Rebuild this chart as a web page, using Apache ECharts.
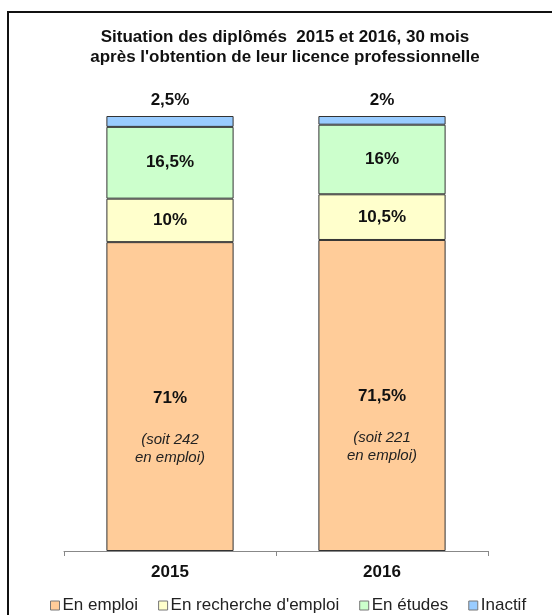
<!DOCTYPE html>
<html>
<head>
<meta charset="utf-8">
<script src="https://cdn.jsdelivr.net/npm/echarts@6/dist/echarts.min.js"></script>
<style>
  html, body { margin: 0; padding: 0; background: #fff; }
  #chart { width: 552px; height: 615px; }
</style>
</head>
<body>
<div id="chart"></div>
<script>
// données
const years = ['2015', '2016']
const enEmploi = [71, 71.5]
const enRecherche = [10, 10.5]
const enEtudes = [16.5, 16]
const inactif = [2.5, 2]
const nbEmploi = [242, 221]

const font = 'Liberation Sans, Arial, sans-serif'
const pct = (v) => String(v).replace('.', ',') + '%'

const chart = echarts.init(document.getElementById('chart'))

const segBorder = { borderColor: '#333', borderWidth: 1 }

const option = {
  animation: false,
  textStyle: { fontFamily: font },
  graphic: [
    {
      type: 'polyline',
      shape: { points: [[8, 615], [8, 12], [552, 12]] },
      style: { stroke: '#111', lineWidth: 2, fill: null }
    },
    {
      // titre centré un peu à droite, comme sur l'original
      type: 'text',
      x: 285,
      y: 47,
      style: {
        text: 'Situation des diplômés  2015 et 2016, 30 mois\naprès l\'obtention de leur licence professionnelle',
        align: 'center',
        verticalAlign: 'middle',
        fontSize: 17,
        fontWeight: 'bold',
        fontFamily: font,
        lineHeight: 20,
        fill: '#111'
      }
    }
  ],
  legend: {
    top: 592,
    left: 45,
    itemWidth: 9,
    itemHeight: 9,
    itemGap: 20,
    icon: 'rect',
    itemStyle: { borderColor: '#777', borderWidth: 1 },
    textStyle: { fontSize: 17, color: '#222', fontFamily: font, padding: [0, 0, 0, -2] },
    data: ['En emploi', 'En recherche d\'emploi', 'En études', 'Inactif']
  },
  grid: { left: 64, right: 64, top: 116, bottom: 64 },
  xAxis: {
    type: 'category',
    data: years,
    axisLine: { lineStyle: { color: '#888' } },
    axisTick: { show: true, length: 5, lineStyle: { color: '#888' } },
    axisLabel: { fontSize: 17, fontWeight: 'bold', color: '#111', margin: 13, fontFamily: font }
  },
  yAxis: {
    type: 'value',
    min: 0,
    max: 100,
    show: false,
    splitLine: { show: false }
  },
  series: [
    {
      name: 'En emploi',
      type: 'bar',
      stack: 'total',
      barWidth: '60%',
      data: enEmploi,
      itemStyle: Object.assign({ color: '#FFCC99' }, segBorder),
      label: {
        show: true,
        position: ['50%', 145],
        align: 'center',
        verticalAlign: 'top',
        formatter: (p) => '{b|' + pct(p.value) + '}\n{s|}\n{i|(soit ' + nbEmploi[p.dataIndex] + '}\n{i|en emploi)}',
        rich: {
          b: { fontSize: 17, fontWeight: 'bold', color: '#111', lineHeight: 22, fontFamily: font },
          s: { lineHeight: 22 },
          i: { fontSize: 15, fontStyle: 'italic', color: '#222', lineHeight: 18, fontFamily: font }
        }
      }
    },
    {
      name: 'En recherche d\'emploi',
      type: 'bar',
      stack: 'total',
      data: enRecherche,
      itemStyle: Object.assign({ color: '#FFFFCC' }, segBorder),
      label: {
        show: true,
        position: 'inside',
        formatter: (p) => pct(p.value),
        fontSize: 17, fontWeight: 'bold', color: '#111', fontFamily: font
      }
    },
    {
      name: 'En études',
      type: 'bar',
      stack: 'total',
      data: enEtudes,
      itemStyle: Object.assign({ color: '#CCFFCC' }, segBorder),
      label: {
        show: true,
        position: 'inside',
        formatter: (p) => pct(p.value),
        fontSize: 17, fontWeight: 'bold', color: '#111', fontFamily: font
      }
    },
    {
      name: 'Inactif',
      type: 'bar',
      stack: 'total',
      data: inactif,
      itemStyle: Object.assign({ color: '#99CCFF' }, segBorder),
      label: {
        show: true,
        position: 'top',
        distance: 7,
        formatter: (p) => pct(p.value),
        fontSize: 17, fontWeight: 'bold', color: '#111', fontFamily: font
      }
    }
  ]
}

chart.setOption(option)
</script>
</body>
</html>
